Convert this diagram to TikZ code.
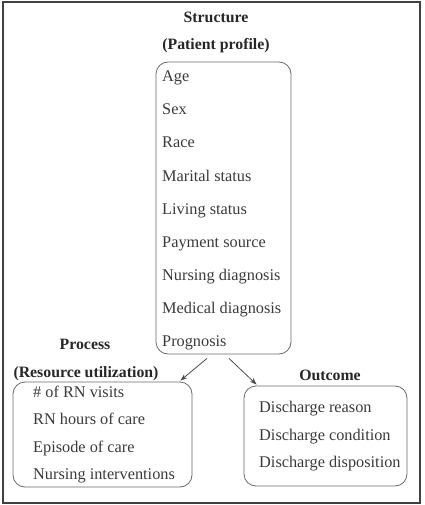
\documentclass[tikz,border=0pt]{standalone}
\usepackage{fontspec}
\setmainfont{Liberation Serif}
\usetikzlibrary{arrows.meta,calc}
\definecolor{linegray}{HTML}{6A6A6A}
\definecolor{textgray}{HTML}{3A3A3A}
\definecolor{framegray}{HTML}{404040}
\begin{document}
\begin{tikzpicture}[x=1pt,y=-1pt,
  box/.style={draw=linegray, line width=0.8pt, rounded corners=12pt, inner sep=0pt},
  item/.style={anchor=base west, inner sep=0pt, text=textgray, font=\fontsize{16.3}{19}\selectfont},
  head/.style={anchor=base, inner sep=0pt, text=black!85, font=\fontsize{15.8}{19}\selectfont\bfseries},
  arr/.style={-{Stealth[length=7pt,width=5pt]}, draw=black!70, line width=0.8pt}]
\useasboundingbox (0,0) rectangle (424,505);
\draw[framegray, line width=2pt] (3,2) rectangle (420,503);
% Structure
\node[head] (sh1) at (216,23) {Structure};
\node[head] (sh2) at (216,50) {(Patient profile)};
\node[box, minimum width=135pt, minimum height=292pt] (s) at (223.5,208) {};
\node[item] (s1) at (162,82) {Age};
\node[item] (s2) at (162,115) {Sex};
\node[item] (s3) at (162,148) {Race};
\node[item] (s4) at (162,181) {Marital status};
\node[item] (s5) at (162,214) {Living status};
\node[item] (s6) at (162,247) {Payment source};
\node[item] (s7) at (162,280) {Nursing diagnosis};
\node[item] (s8) at (162,313) {Medical diagnosis};
\node[item] (s9) at (162,346) {Prognosis};
% Process
\node[head] (ph1) at (85,349) {Process};
\node[head] (ph2) at (86,377) {(Resource utilization)};
\node[box, minimum width=179pt, minimum height=105pt] (p) at (102.5,434.5) {};
\node[item] (p1) at (33,397) {\# of RN visits};
\node[item] (p2) at (33,424) {RN hours of care};
\node[item] (p3) at (33,452) {Episode of care};
\node[item] (p4) at (33,479) {Nursing interventions};
% Outcome
\node[head] (oh) at (330,380) {Outcome};
\node[box, minimum width=163pt, minimum height=100pt] (o) at (325.5,436) {};
\node[item] (o1) at (259,412) {Discharge reason};
\node[item] (o2) at (259,440) {Discharge condition};
\node[item] (o3) at (259,467) {Discharge disposition};
% arrows
\draw[arr] ([xshift=-16.5pt,yshift=-4pt]s.south) -- ([xshift=-12pt,yshift=1pt]p.north east);
\draw[arr] ([xshift=5.5pt,yshift=-4pt]s.south) -- ([xshift=13pt,yshift=1pt]o.north west);
\end{tikzpicture}
\end{document}
